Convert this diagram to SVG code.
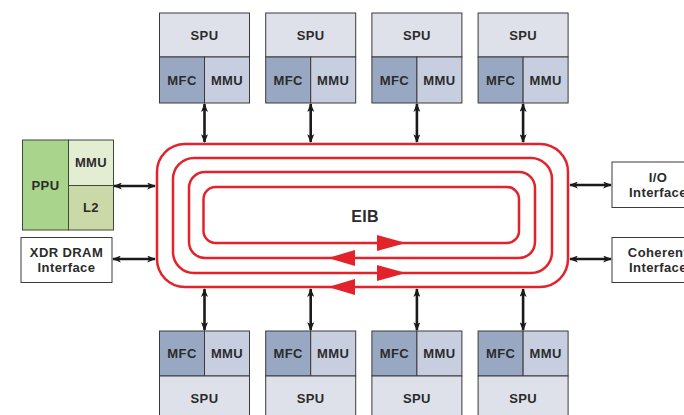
<svg xmlns="http://www.w3.org/2000/svg" width="684" height="415" viewBox="0 0 684 415">
<defs>
<style>
.t{font-family:"Liberation Sans",Arial,sans-serif;font-weight:bold;font-size:13px;letter-spacing:0.4px;fill:#2b2b2b;text-anchor:middle}
.spu{fill:#dfe1ea;stroke:#3a3a3a;stroke-width:1}
.mfc{fill:#98a8c2;stroke:#3a3a3a;stroke-width:1}
.mmu{fill:#c6cee0;stroke:#3a3a3a;stroke-width:1}
.ring{fill:none;stroke:#e2232b;stroke-width:2.5}
.rh{fill:#e2232b}
.conn{stroke:#1a1a1a;stroke-width:2.6;fill:none;marker-start:url(#ah);marker-end:url(#ah)}
.box{fill:#ffffff;stroke:#3a3a3a;stroke-width:1}
</style>
<marker id="ah" viewBox="0 0 10 8" refX="9" refY="4" markerWidth="9" markerHeight="7" markerUnits="userSpaceOnUse" orient="auto-start-reverse">
<path d="M0,0 L10,4 L0,8 L2.5,4 Z" fill="#1a1a1a"/>
</marker>
</defs>
<rect width="684" height="415" fill="#ffffff"/>

<g id="eib">
<rect class="ring" x="157" y="144" width="411" height="143" rx="28"/>
<rect class="ring" x="173" y="158" width="379" height="115" rx="21"/>
<rect class="ring" x="189" y="172" width="346" height="86" rx="16"/>
<rect class="ring" x="203.5" y="187" width="315.5" height="56" rx="12"/>
<path class="rh" d="M377,235 L406,243 L377,251 Z"/>
<path class="rh" d="M328,258 L355,250 L355,266 Z"/>
<path class="rh" d="M377,265 L406,273 L377,281 Z"/>
<path class="rh" d="M328,287 L355,279 L355,295 Z"/>
<text class="t" x="365" y="222" style="font-size:16px;letter-spacing:0.3px">EIB</text>
</g>

<g id="spu-top-1">
<rect class="spu" x="159.5" y="13" width="90" height="44"/>
<rect class="mfc" x="159.5" y="57" width="45" height="46"/>
<rect class="mmu" x="204.5" y="57" width="45" height="46"/>
<text class="t" x="204.5" y="40">SPU</text>
<text class="t" x="182" y="85">MFC</text>
<text class="t" x="227" y="85">MMU</text>
</g>
<g id="spu-top-2">
<rect class="spu" x="265.7" y="13" width="90" height="44"/>
<rect class="mfc" x="265.7" y="57" width="45" height="46"/>
<rect class="mmu" x="310.7" y="57" width="45" height="46"/>
<text class="t" x="310.7" y="40">SPU</text>
<text class="t" x="288.2" y="85">MFC</text>
<text class="t" x="333.2" y="85">MMU</text>
</g>
<g id="spu-top-3">
<rect class="spu" x="371.9" y="13" width="90" height="44"/>
<rect class="mfc" x="371.9" y="57" width="45" height="46"/>
<rect class="mmu" x="416.9" y="57" width="45" height="46"/>
<text class="t" x="416.9" y="40">SPU</text>
<text class="t" x="394.4" y="85">MFC</text>
<text class="t" x="439.4" y="85">MMU</text>
</g>
<g id="spu-top-4">
<rect class="spu" x="478.1" y="13" width="90" height="44"/>
<rect class="mfc" x="478.1" y="57" width="45" height="46"/>
<rect class="mmu" x="523.1" y="57" width="45" height="46"/>
<text class="t" x="523.1" y="40">SPU</text>
<text class="t" x="500.6" y="85">MFC</text>
<text class="t" x="545.6" y="85">MMU</text>
</g>

<g id="spu-bot-1">
<rect class="mfc" x="159.5" y="331" width="45" height="45"/>
<rect class="mmu" x="204.5" y="331" width="45" height="45"/>
<rect class="spu" x="159.5" y="376" width="90" height="45"/>
<text class="t" x="182" y="358">MFC</text>
<text class="t" x="227" y="358">MMU</text>
<text class="t" x="204.5" y="403">SPU</text>
</g>
<g id="spu-bot-2">
<rect class="mfc" x="265.7" y="331" width="45" height="45"/>
<rect class="mmu" x="310.7" y="331" width="45" height="45"/>
<rect class="spu" x="265.7" y="376" width="90" height="45"/>
<text class="t" x="288.2" y="358">MFC</text>
<text class="t" x="333.2" y="358">MMU</text>
<text class="t" x="310.7" y="403">SPU</text>
</g>
<g id="spu-bot-3">
<rect class="mfc" x="371.9" y="331" width="45" height="45"/>
<rect class="mmu" x="416.9" y="331" width="45" height="45"/>
<rect class="spu" x="371.9" y="376" width="90" height="45"/>
<text class="t" x="394.4" y="358">MFC</text>
<text class="t" x="439.4" y="358">MMU</text>
<text class="t" x="416.9" y="403">SPU</text>
</g>
<g id="spu-bot-4">
<rect class="mfc" x="478.1" y="331" width="45" height="45"/>
<rect class="mmu" x="523.1" y="331" width="45" height="45"/>
<rect class="spu" x="478.1" y="376" width="90" height="45"/>
<text class="t" x="500.6" y="358">MFC</text>
<text class="t" x="545.6" y="358">MMU</text>
<text class="t" x="523.1" y="403">SPU</text>
</g>

<g id="ppu">
<rect x="22.5" y="140" width="46" height="90" fill="#a8d48c" stroke="#3d4a35" stroke-width="1"/>
<rect x="68.5" y="140" width="45" height="45.5" fill="#e2edd2" stroke="#3d4a35" stroke-width="1"/>
<rect x="68.5" y="185.5" width="45" height="44.5" fill="#cbd9a8" stroke="#3d4a35" stroke-width="1"/>
<text class="t" x="45.5" y="190">PPU</text>
<text class="t" x="91" y="167">MMU</text>
<text class="t" x="91" y="212">L2</text>
</g>

<g id="xdr">
<rect class="box" x="21" y="237.5" width="91" height="45"/>
<text class="t" x="66.5" y="257">XDR DRAM</text>
<text class="t" x="66.5" y="272">Interface</text>
</g>

<g id="io">
<rect class="box" x="612" y="162" width="91" height="45.5"/>
<text class="t" x="658" y="182">I/O</text>
<text class="t" x="658" y="197">Interface</text>
</g>

<g id="coherent">
<rect class="box" x="612" y="237.5" width="91" height="45"/>
<text class="t" x="658" y="257">Coherent</text>
<text class="t" x="658" y="272">Interface</text>
</g>

<g id="connectors">
<line class="conn" x1="204.5" y1="104" x2="204.5" y2="142"/>
<line class="conn" x1="310.7" y1="104" x2="310.7" y2="142"/>
<line class="conn" x1="416.9" y1="104" x2="416.9" y2="142"/>
<line class="conn" x1="523.1" y1="104" x2="523.1" y2="142"/>
<line class="conn" x1="204.5" y1="289" x2="204.5" y2="330"/>
<line class="conn" x1="310.7" y1="289" x2="310.7" y2="330"/>
<line class="conn" x1="416.9" y1="289" x2="416.9" y2="330"/>
<line class="conn" x1="523.1" y1="289" x2="523.1" y2="330"/>
<line class="conn" x1="114" y1="186" x2="155" y2="186"/>
<line class="conn" x1="113" y1="259" x2="155" y2="259"/>
<line class="conn" x1="570" y1="185" x2="611" y2="185"/>
<line class="conn" x1="570" y1="259" x2="611" y2="259"/>
</g>
</svg>
